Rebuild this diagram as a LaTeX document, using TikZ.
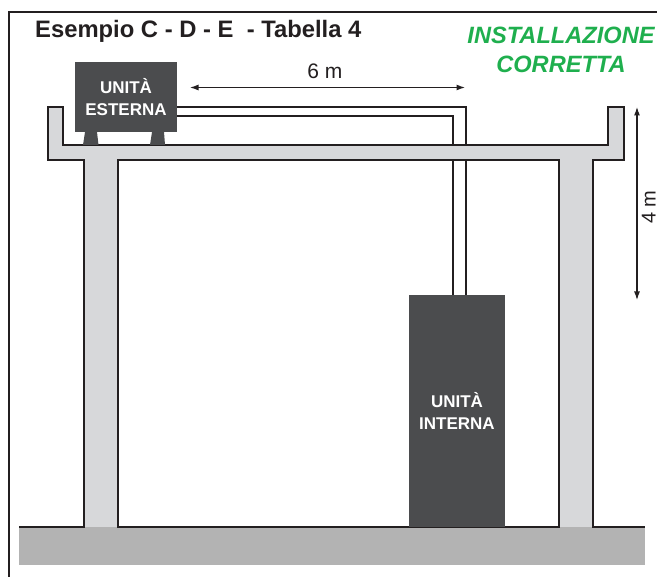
\documentclass[tikz,border=0pt]{standalone}
\usepackage{fontspec}
\setmainfont{Liberation Sans}
\usetikzlibrary{arrows.meta}
\definecolor{ink}{HTML}{231F20}
\definecolor{unitgrey}{HTML}{4B4C4E}
\definecolor{concrete}{HTML}{D7D8DA}
\definecolor{groundgrey}{HTML}{B3B3B3}
\definecolor{okgreen}{HTML}{1FAF4E}
\tikzset{
  wall/.style={draw=ink,line width=2pt,line join=miter},
  pipe/.style={draw=ink,line width=2pt,line join=miter},
  unitbox/.style={fill=unitgrey,draw=none,inner sep=0pt,text=white,align=center,font=\bfseries\fontsize{17}{21.5}\selectfont},
  foot/.style={fill=unitgrey,draw=none},
  dim/.style={draw=ink,line width=1.1pt,{Latex[length=8.5pt,width=6pt]}-{Latex[length=8.5pt,width=6pt]}},
  dimlabel/.style={inner sep=0pt,text=ink,font=\fontsize{21}{24}\selectfont},
  verdict/.style={inner sep=0pt,text=okgreen,align=center,font=\bfseries\itshape\fontsize{23.6}{29.5}\selectfont}
}
\begin{document}
\begin{tikzpicture}[x=1pt,y=-1pt]
\useasboundingbox (0,0) rectangle (657,577);
% frame
\draw[ink,line width=2.2pt] (9,577) -- (9,12) -- (657,12);
% ground
\fill[groundgrey] (19,527) rectangle (645,565);
% units
\node[unitbox,minimum width=102pt,minimum height=70pt] (ue) at (126,97) {UNITÀ\\ESTERNA};
\coordinate (p1a) at (177,107);
\coordinate (p1b) at (466,107);
\coordinate (p2a) at (177,116);
\coordinate (p2b) at (453,116);
\coordinate (p1c) at (466,295);
\coordinate (p2c) at (453,295);
% pipes
\draw[pipe] (p1a) -- (p1b) -- (p1c);
\draw[pipe] (p2a) -- (p2b) -- (p2c);
% concrete frame
\fill[concrete] (84,527) -- (84,160) -- (48,160) -- (48,107) -- (63,107) -- (63,145) -- (608,145) -- (608,107) -- (624,107) -- (624,160) -- (593,160) -- (593,527) -- (559,527) -- (559,160) -- (118,160) -- (118,527) -- cycle;
\draw[wall] (84,527) -- (84,160) -- (48,160) -- (48,107) -- (63,107) -- (63,145) -- (608,145) -- (608,107) -- (624,107) -- (624,160) -- (593,160) -- (593,527);
\draw[wall] (559,527) -- (559,160) -- (118,160) -- (118,527);
\draw[wall] (19,527) -- (85,527) (117,527) -- (560,527) (592,527) -- (645,527);
% feet
\fill[foot] (85,132) -- (97,132) -- (98.5,145) -- (83,145) -- cycle;
\fill[foot] (152,132) -- (164,132) -- (165,145) -- (150,145) -- cycle;
% indoor unit
\node[unitbox,minimum width=96pt,minimum height=232pt] (ui) at (457,411) {UNITÀ\\INTERNA};
% dimensions
\coordinate (d6a) at (190,87.5);
\coordinate (d6b) at (465,87.5);
\coordinate (d4a) at (637,107);
\coordinate (d4b) at (637,300);
\draw[dim] (d6a) -- (d6b);
\draw[dim] (d4a) -- (d4b);
\node[dimlabel] (l6) at (325,71) {6 m};
\node[dimlabel,rotate=90,anchor=base,font=\fontsize{20}{24}\selectfont] (l4) at (655.5,207) {4 m};
% texts
\node[inner sep=0pt,anchor=base west,text=ink,font=\bfseries\fontsize{23.8}{26}\selectfont] (title) at (35,37.3) {Esempio C - D - E \ - Tabella 4};
\node[verdict] (ok) at (561,50) {INSTALLAZIONE\\CORRETTA};
\end{tikzpicture}
\end{document}
